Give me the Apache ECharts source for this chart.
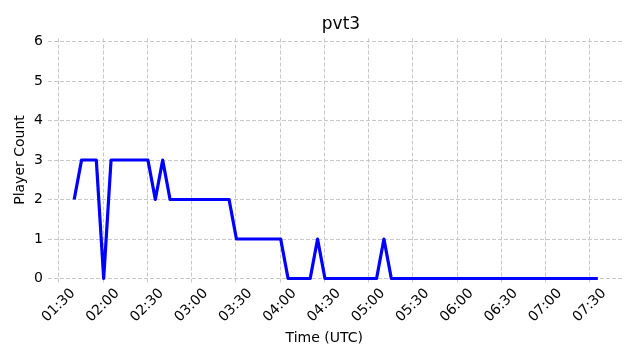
<!DOCTYPE html>
<html>
<head>
<meta charset="utf-8">
<script src="https://cdn.jsdelivr.net/npm/echarts@6/dist/echarts.min.js"></script>
<style>html,body{margin:0;padding:0;background:#fff}#c{width:640px;height:360px}</style>
</head>
<body>
<div id="c"></div>
<script>
const times = ["01:40:30","01:45:30","01:55:30","02:00:30","02:05:30","02:30:30","02:35:30","02:40:30","02:45:30","03:25:30","03:30:30","04:00:30","04:05:30","04:20:30","04:25:30","04:30:30","05:05:30","05:10:30","05:15:30","07:35:30"];
const playerCounts = [2,3,3,0,3,3,2,3,2,2,1,1,0,0,1,0,0,1,0,0];
const yTicks = [0,1,2,3,4,5,6];
const xTickStart = "01:30", xTickEnd = "07:30", xTickStep = 30;

function toMin(s){const p=s.split(':').map(Number);return p[0]*60+p[1]+(p[2]||0)/60;}
function fmt(m){const h=Math.floor(m/60), mm=Math.round(m-h*60);return String(h).padStart(2,'0')+':'+String(mm).padStart(2,'0');}

const xs = times.map(toMin);
const dMin = Math.min(...xs), dMax = Math.max(...xs);
const pad = (dMax-dMin)*0.05;
const xMin = dMin-pad, xMax = dMax+pad;

// layout
const L = 48, R = 624, T = 41.5, B = 278.5;
const pxPerMin = (R-L)/(xMax-xMin);
const t0 = toMin(xTickStart), t1 = toMin(xTickEnd);
const L2 = L + (t0-xMin)*pxPerMin;
const R2 = L + (t1-xMin)*pxPerMin;
const font = 'DejaVu Sans';

const chart = echarts.init(document.getElementById('c'));
chart.setOption({
  animation:false,
  backgroundColor:'#fff',
  title:{text:'pvt3',left:(L+R)/2,top:11,textAlign:'center',
    textStyle:{fontFamily:font,fontSize:17,fontWeight:'normal',color:'#000'}},
  grid:[
    {left:L,top:T,width:R-L,height:B-T,containLabel:false},
    {left:L2,top:T-3,width:R2-L2,height:B-T+7,containLabel:false}
  ],
  xAxis:[
    {type:'value',gridIndex:0,min:xMin,max:xMax,show:false,splitLine:{show:false}},
    {type:'value',gridIndex:1,min:t0,max:t1,interval:xTickStep,
      name:'Time (UTC)',nameLocation:'middle',nameGap:49,
      nameTextStyle:{fontFamily:font,fontSize:14,color:'#000'},
      axisLine:{show:false},axisTick:{show:false},
      axisLabel:{formatter:v=>fmt(v),rotate:45,align:'center',verticalAlign:'middle',margin:23,
        fontFamily:font,fontSize:14,color:'#000'},
      splitLine:{show:true,lineStyle:{color:'#c8c8c8',type:[4,2],width:1}}}
  ],
  yAxis:[
    {type:'value',gridIndex:0,min:yTicks[0],max:yTicks[yTicks.length-1],interval:1,
      name:'Player Count',nameLocation:'middle',nameGap:21,nameMoveOverlap:false,
      nameTextStyle:{fontFamily:font,fontSize:14,color:'#000'},
      axisLine:{show:false},axisTick:{show:false},
      axisLabel:{margin:5,fontFamily:font,fontSize:14,color:'#000'},
      splitLine:{show:true,lineStyle:{color:'#c8c8c8',type:[4,2],width:1}}},
    {type:'value',gridIndex:1,min:0,max:1,show:false,splitLine:{show:false}}
  ],
  series:[{
    type:'line',xAxisIndex:0,yAxisIndex:0,
    data:xs.map((x,i)=>[x,playerCounts[i]]),
    showSymbol:false,symbol:'none',clip:false,
    lineStyle:{color:'#0000ff',width:3.2,join:'round',cap:'butt'}
  }]
});
</script>
</body>
</html>
